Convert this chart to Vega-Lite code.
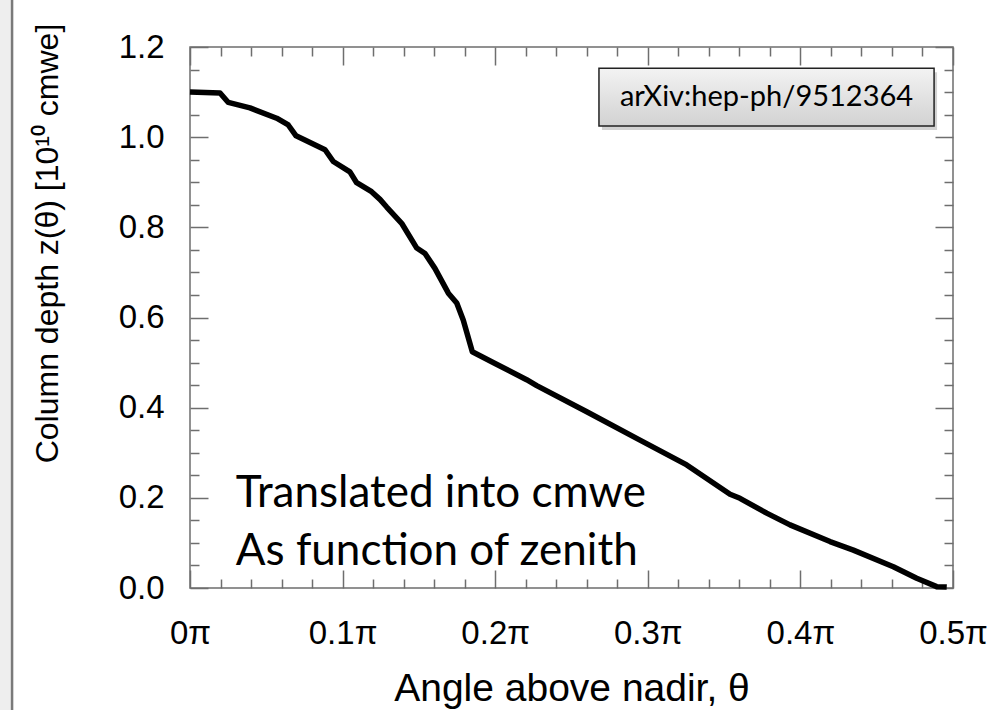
{
  "$schema": "https://vega.github.io/schema/vega-lite/v6.json",
  "autosize": {"type": "none"},
  "width": 763,
  "height": 541,
  "padding": {"left": 190, "top": 47, "right": 41, "bottom": 122},
  "background": "white",
  "config": {
    "font": "Liberation Sans",
    "view": {"stroke": "#6e6e6e", "strokeWidth": 1.5},
    "axis": {"labelColor": "black", "titleColor": "black", "titleFontWeight": "normal", "labelFont": "Liberation Sans", "titleFont": "Liberation Sans", "grid": false}
  },
  "datasets": {
    "curve": [
      {"x": 0.0, "y": 1.100},
      {"x": 0.0197, "y": 1.098},
      {"x": 0.0251, "y": 1.077},
      {"x": 0.0393, "y": 1.065},
      {"x": 0.0568, "y": 1.042},
      {"x": 0.0644, "y": 1.027},
      {"x": 0.0695, "y": 1.003},
      {"x": 0.0885, "y": 0.972},
      {"x": 0.0939, "y": 0.946},
      {"x": 0.1048, "y": 0.923},
      {"x": 0.1092, "y": 0.899},
      {"x": 0.119, "y": 0.879},
      {"x": 0.1245, "y": 0.862},
      {"x": 0.1289, "y": 0.845},
      {"x": 0.1387, "y": 0.809},
      {"x": 0.1486, "y": 0.754},
      {"x": 0.154, "y": 0.742},
      {"x": 0.1605, "y": 0.709},
      {"x": 0.1693, "y": 0.654},
      {"x": 0.1748, "y": 0.632},
      {"x": 0.1791, "y": 0.594},
      {"x": 0.1850, "y": 0.524},
      {"x": 0.1999, "y": 0.498},
      {"x": 0.2206, "y": 0.462},
      {"x": 0.2272, "y": 0.449},
      {"x": 0.26, "y": 0.391},
      {"x": 0.2927, "y": 0.332},
      {"x": 0.3255, "y": 0.273},
      {"x": 0.3539, "y": 0.208},
      {"x": 0.3604, "y": 0.199},
      {"x": 0.3779, "y": 0.166},
      {"x": 0.3932, "y": 0.140},
      {"x": 0.4194, "y": 0.103},
      {"x": 0.4347, "y": 0.084},
      {"x": 0.4609, "y": 0.047},
      {"x": 0.4762, "y": 0.0215},
      {"x": 0.4893, "y": 0.003},
      {"x": 0.4959, "y": 0.002}
    ],
    "box": [
      {"x0": 0.268, "x1": 0.4876, "y0": 1.025, "y1": 1.153, "label": "arXiv:hep-ph/9512364", "xc": 0.3778, "yc": 1.089}
    ],
    "note": [
      {"x": 0.030, "y": 0.18, "label": "Translated into cmwe"},
      {"x": 0.030, "y": 0.051, "label": "As function of zenith"}
    ],
    "edge": [
      {"x0": -0.1246, "x1": -0.1166, "y0": -0.3, "y1": 1.42}
    ]
  },
  "resolve": {"scale": {"x": "independent", "y": "independent"}, "axis": {"x": "independent", "y": "independent"}},
  "layer": [
    {
      "data": {"name": "edge"},
      "mark": {"type": "rect", "fill": "#eeeeee", "clip": false},
      "encoding": {
        "x": {"field": "x0", "type": "quantitative", "scale": {"domain": [0, 0.5], "nice": false, "zero": false}, "axis": null},
        "x2": {"field": "x1"},
        "y": {"field": "y0", "type": "quantitative", "scale": {"domain": [0, 1.2], "nice": false, "zero": false}, "axis": null},
        "y2": {"field": "y1"}
      }
    },
    {
      "data": {"name": "edge"},
      "mark": {"type": "rule", "color": "#7a7a7a", "strokeWidth": 2.5, "clip": false},
      "encoding": {
        "x": {"field": "x1", "type": "quantitative", "scale": {"domain": [0, 0.5], "nice": false, "zero": false}, "axis": null},
        "y": {"field": "y0", "type": "quantitative", "scale": {"domain": [0, 1.2], "nice": false, "zero": false}, "axis": null},
        "y2": {"field": "y1"}
      }
    },
    {
      "data": {"name": "curve"},
      "mark": {"type": "line", "color": "black", "strokeWidth": 5.5, "strokeJoin": "round"},
      "encoding": {
        "x": {
          "field": "x", "type": "quantitative",
          "scale": {"domain": [0, 0.5], "nice": false, "zero": false},
          "axis": {
            "orient": "bottom", "values": [0, 0.1, 0.2, 0.3, 0.4, 0.5],
            "ticks": false, "domain": false, "labelFlush": false, "labelOverlap": false,
            "labelExpr": "datum.value === 0 ? '0π' : format(datum.value, '.1f') + 'π'",
            "labelFont": "Liberation Sans", "labelFontSize": 33, "labelPadding": 55, "labelBaseline": "alphabetic",
            "title": "Angle above nadir, θ", "titleFont": "Liberation Sans", "titleFontSize": 39, "titleY": 112, "titleBaseline": "alphabetic"
          }
        },
        "y": {
          "field": "y", "type": "quantitative",
          "scale": {"domain": [0, 1.2], "nice": false, "zero": false},
          "axis": {
            "orient": "left", "values": [0, 0.2, 0.4, 0.6, 0.8, 1.0, 1.2],
            "ticks": false, "domain": false, "labelFlush": false, "labelOverlap": false,
            "format": ".1f", "labelFont": "Liberation Sans", "labelFontSize": 33, "labelPadding": 26,
            "title": "Column depth z(θ) [10¹⁰ cmwe]", "titleFont": "Liberation Sans", "titleFontSize": 32,
            "titleX": -143, "titleY": 196, "titleAngle": -90, "titleBaseline": "middle", "titleAlign": "center"
          }
        }
      }
    },
    {
      "data": {"name": "curve"},
      "mark": {"type": "point", "opacity": 0},
      "encoding": {
        "x": {"field": "x", "type": "quantitative", "scale": {"domain": [0, 0.5], "nice": false, "zero": false}, "axis": {"orient": "bottom", "values": [0, 0.1, 0.2, 0.3, 0.4, 0.5], "labels": false, "domain": false, "title": null, "offset": -18, "tickSize": 18, "tickColor": "#6e6e6e", "tickWidth": 1.5}},
        "y": {"field": "y", "type": "quantitative", "scale": {"domain": [0, 1.2], "nice": false, "zero": false}, "axis": {"orient": "left", "values": [0, 0.2, 0.4, 0.6, 0.8, 1.0, 1.2], "labels": false, "domain": false, "title": null, "offset": -18, "tickSize": 18, "tickColor": "#6e6e6e", "tickWidth": 1.5}}
      }
    },
    {
      "data": {"name": "curve"},
      "mark": {"type": "point", "opacity": 0},
      "encoding": {
        "x": {"field": "x", "type": "quantitative", "scale": {"domain": [0, 0.5], "nice": false, "zero": false}, "axis": {"orient": "bottom", "values": [0.02, 0.04, 0.06, 0.08, 0.12, 0.14, 0.16, 0.18, 0.22, 0.24, 0.26, 0.28, 0.32, 0.34, 0.36, 0.38, 0.42, 0.44, 0.46, 0.48], "labels": false, "domain": false, "title": null, "offset": -9, "tickSize": 9, "tickColor": "#6e6e6e", "tickWidth": 1.5}},
        "y": {"field": "y", "type": "quantitative", "scale": {"domain": [0, 1.2], "nice": false, "zero": false}, "axis": {"orient": "left", "values": [0.05, 0.1, 0.15, 0.25, 0.3, 0.35, 0.45, 0.5, 0.55, 0.65, 0.7, 0.75, 0.85, 0.9, 0.95, 1.05, 1.1, 1.15], "labels": false, "domain": false, "title": null, "offset": -9, "tickSize": 9, "tickColor": "#6e6e6e", "tickWidth": 1.5}}
      }
    },
    {
      "data": {"name": "curve"},
      "mark": {"type": "point", "opacity": 0},
      "encoding": {
        "x": {"field": "x", "type": "quantitative", "scale": {"domain": [0, 0.5], "nice": false, "zero": false}, "axis": {"orient": "top", "values": [0, 0.1, 0.2, 0.3, 0.4, 0.5], "labels": false, "domain": false, "title": null, "offset": -18, "tickSize": 18, "tickColor": "#6e6e6e", "tickWidth": 1.5}},
        "y": {"field": "y", "type": "quantitative", "scale": {"domain": [0, 1.2], "nice": false, "zero": false}, "axis": {"orient": "right", "values": [0, 0.2, 0.4, 0.6, 0.8, 1.0, 1.2], "labels": false, "domain": false, "title": null, "offset": -18, "tickSize": 18, "tickColor": "#6e6e6e", "tickWidth": 1.5}}
      }
    },
    {
      "data": {"name": "curve"},
      "mark": {"type": "point", "opacity": 0},
      "encoding": {
        "x": {"field": "x", "type": "quantitative", "scale": {"domain": [0, 0.5], "nice": false, "zero": false}, "axis": {"orient": "top", "values": [0.02, 0.04, 0.06, 0.08, 0.12, 0.14, 0.16, 0.18, 0.22, 0.24, 0.26, 0.28, 0.32, 0.34, 0.36, 0.38, 0.42, 0.44, 0.46, 0.48], "labels": false, "domain": false, "title": null, "offset": -9, "tickSize": 9, "tickColor": "#6e6e6e", "tickWidth": 1.5}},
        "y": {"field": "y", "type": "quantitative", "scale": {"domain": [0, 1.2], "nice": false, "zero": false}, "axis": {"orient": "right", "values": [0.05, 0.1, 0.15, 0.25, 0.3, 0.35, 0.45, 0.5, 0.55, 0.65, 0.7, 0.75, 0.85, 0.9, 0.95, 1.05, 1.1, 1.15], "labels": false, "domain": false, "title": null, "offset": -9, "tickSize": 9, "tickColor": "#6e6e6e", "tickWidth": 1.5}}
      }
    },
    {
      "data": {"name": "box"},
      "mark": {"type": "rect", "fill": "#7f7f7f", "opacity": 0.35, "xOffset": 3, "x2Offset": 3, "yOffset": 4, "y2Offset": 4},
      "encoding": {
        "x": {"field": "x0", "type": "quantitative", "scale": {"domain": [0, 0.5], "nice": false, "zero": false}, "axis": null},
        "x2": {"field": "x1"},
        "y": {"field": "y0", "type": "quantitative", "scale": {"domain": [0, 1.2], "nice": false, "zero": false}, "axis": null},
        "y2": {"field": "y1"}
      }
    },
    {
      "data": {"name": "box"},
      "mark": {
        "type": "rect", "stroke": "#222222", "strokeWidth": 1.5,
        "fill": {"gradient": "linear", "x1": 0, "y1": 0, "x2": 0, "y2": 1, "stops": [{"offset": 0, "color": "#f3f3f3"}, {"offset": 1, "color": "#d2d2d2"}]}
      },
      "encoding": {
        "x": {"field": "x0", "type": "quantitative", "scale": {"domain": [0, 0.5], "nice": false, "zero": false}, "axis": null},
        "x2": {"field": "x1"},
        "y": {"field": "y0", "type": "quantitative", "scale": {"domain": [0, 1.2], "nice": false, "zero": false}, "axis": null},
        "y2": {"field": "y1"}
      }
    },
    {
      "data": {"name": "box"},
      "mark": {"type": "text", "font": "Lato", "fontSize": 29, "color": "black", "align": "center", "baseline": "middle"},
      "encoding": {
        "x": {"field": "xc", "type": "quantitative", "scale": {"domain": [0, 0.5], "nice": false, "zero": false}, "axis": null},
        "y": {"field": "yc", "type": "quantitative", "scale": {"domain": [0, 1.2], "nice": false, "zero": false}, "axis": null},
        "text": {"field": "label"}
      }
    },
    {
      "data": {"name": "note"},
      "mark": {"type": "text", "font": "Lato", "fontSize": 44, "color": "black", "align": "left", "baseline": "alphabetic"},
      "encoding": {
        "x": {"field": "x", "type": "quantitative", "scale": {"domain": [0, 0.5], "nice": false, "zero": false}, "axis": null},
        "y": {"field": "y", "type": "quantitative", "scale": {"domain": [0, 1.2], "nice": false, "zero": false}, "axis": null},
        "text": {"field": "label"}
      }
    }
  ]
}
